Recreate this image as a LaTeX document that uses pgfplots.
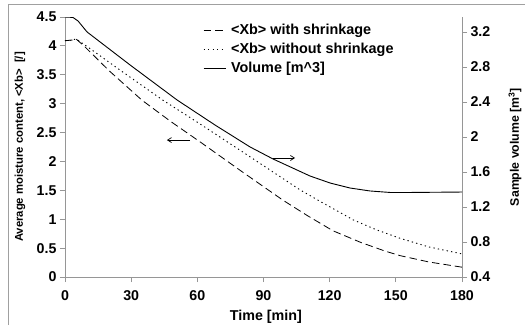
\documentclass[border=0pt]{standalone}
\usepackage{fontspec}
\setmainfont{Liberation Sans}
\usepackage{pgfplots}
\pgfplotsset{compat=1.18}
\usetikzlibrary{arrows.meta}
\definecolor{axgray}{RGB}{150,150,150}
\definecolor{framegray}{RGB}{160,160,160}
\pgfplotstableread{
t x
0 4.09
3 4.10
5 4.12
8.6 4.00
20 3.57
34.9 3.06
48 2.69
61.2 2.34
80 1.83
98.8 1.33
110 1.06
121.5 0.80
134 0.60
145 0.45
151.9 0.37
165 0.26
180 0.17
}\withshr
\pgfplotstableread{
t x
0 4.09
3 4.10
5 4.12
10 3.99
25 3.58
44.4 3.06
61.2 2.65
83.9 2.08
106.5 1.51
114.7 1.33
130.6 0.99
141 0.82
151.9 0.67
165 0.52
180 0.40
}\withoutshr
\pgfplotstableread{
t v
0 3.371
3.6 3.366
5.9 3.326
10.0 3.20
29.5 2.823
50.8 2.423
68.0 2.137
83.9 1.886
94.3 1.749
111.1 1.554
120.2 1.474
129.2 1.417
138.3 1.383
147.4 1.366
156.4 1.366
180 1.371
}\volume
\begin{document}
\begin{tikzpicture}[x=1pt,y=1pt]
\useasboundingbox (0,0) rectangle (525,325);
\draw[draw=framegray, line width=0.9pt] (8.5,0) -- (8.5,321) -- (525,321);
\begin{axis}[
  at={(65pt,48pt)}, anchor=south west,
  scale only axis, width=397pt, height=260pt,
  xmin=0, xmax=180, ymin=0, ymax=4.5,
  axis x line*=bottom, axis y line*=left,
  tick align=outside, major tick length=5pt,
  xtick={0,30,...,180}, ytick={0,0.5,...,4.5},
  axis line style={draw=axgray, line width=0.8pt},
  tick style={draw=axgray, line width=0.8pt},
  /pgf/number format/assume math mode=true,
  tick label style={font=\bfseries\fontsize{14.2}{15}\selectfont},
  xticklabel style={yshift=-5pt},
  xlabel={Time [min]},
  xlabel style={font=\bfseries\fontsize{14.3}{15}\selectfont, at={(axis description cs:0.506,-0.152)}, anchor=center},
  ylabel={Average moisture content, <Xb>\hspace{0.55em}[/]},
  ylabel style={font=\bfseries\fontsize{11.3}{12}\selectfont, at={(axis description cs:-0.1134,0.5)}, anchor=center},
  legend style={draw=none, fill=none, at={(axis description cs:0.3476,0.977)}, anchor=north west,
    font=\bfseries\fontsize{14.4}{15}\selectfont, row sep=5pt, inner sep=0pt,
    nodes={inner sep=1pt},
    /tikz/every odd column/.append style={column sep=4pt}},
  legend cell align=left,
  legend image code/.code={\draw[#1] (0pt,0pt) -- (22pt,0pt);},
]
\addplot[black, line width=0.8pt, dash pattern=on 7.5pt off 4pt] table[x=t,y=x]{\withshr};
\addlegendentry{<Xb> with shrinkage}
\addplot[black, line width=0.9pt, dash pattern=on 1.3pt off 3.2pt] table[x=t,y=x]{\withoutshr};
\addlegendentry{<Xb> without shrinkage}
\addlegendimage{black, line width=0.8pt}
\addlegendentry{Volume [m\textasciicircum 3]}
\draw[black, line width=0.7pt, -{Straight Barb[length=4pt,width=5pt]}] (axis cs:56.7,2.37) -- (axis cs:46.2,2.37);
\draw[black, line width=0.7pt, -{Straight Barb[length=4pt,width=5pt]}] (axis cs:94.3,2.06) -- (axis cs:104.3,2.06);
\end{axis}
\begin{axis}[
  at={(65pt,48pt)}, anchor=south west,
  scale only axis, width=397pt, height=260pt,
  xmin=0, xmax=180, ymin=0.4, ymax=3.371,
  axis x line=none, axis y line*=right,
  tick align=outside, major tick length=5pt,
  ytick={0.4,0.8,1.2,1.6,2,2.4,2.8,3.2},
  axis line style={draw=axgray, line width=0.8pt},
  tick style={draw=axgray, line width=0.8pt},
  /pgf/number format/assume math mode=true,
  /pgf/number format/fixed,
  tick label style={font=\bfseries\fontsize{14.2}{15}\selectfont},
  ylabel={Sample volume [m\textsuperscript{3}]},
  ylabel style={font=\bfseries\fontsize{12.3}{13}\selectfont, at={(axis description cs:1.1335,0.5)}, anchor=center},
]
\addplot[black, line width=0.9pt] table[x=t,y=v]{\volume};
\end{axis}
\end{tikzpicture}
\end{document}
